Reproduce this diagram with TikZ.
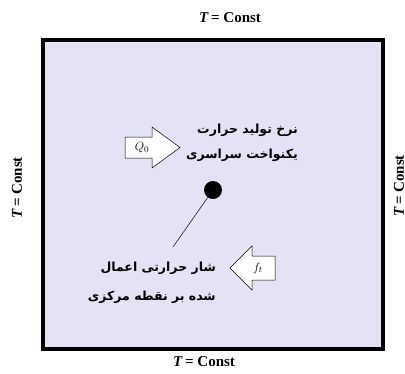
\documentclass[tikz,border=0pt]{standalone}
\usepackage{fontspec}
\setmainfont{Liberation Serif}
\newfontfamily\arabicfont[Script=Arabic]{DejaVu Sans}
\TeXXeTstate=1
\usetikzlibrary{calc}
\definecolor{boxfill}{RGB}{228,226,245}
\tikzset{
  lbl/.style={font=\bfseries\fontsize{15}{17}\selectfont, inner sep=0pt},
  ar/.style={font=\arabicfont\bfseries\fontsize{12.5}{14}\selectfont, inner sep=0pt},
  fatarrow/.style={draw=black, fill=white, line width=0.5pt, line join=miter}
}
\begin{document}
\begin{tikzpicture}[x=1pt,y=-1pt]
\useasboundingbox (0,0) rectangle (405,373);
\draw[line width=4pt, fill=boxfill] (43,40) rectangle (383,349);
\node[lbl] (top) at (230,18) {\textit{T}\,= Const};
\node[lbl] (bot) at (204,362) {\textit{T}\,= Const};
\node[lbl, rotate=90] (left) at (17,188) {\textit{T}\,= Const};
\node[lbl, rotate=90] (right) at (399,186) {\textit{T}\,= Const};
% Q0 arrow
\draw[fatarrow] (125,137) -- (152,137) -- (152,127) -- (180,147.5) -- (152,168) -- (152,158) -- (125,158) -- cycle;
\node (q) at (142,147.5) {\fontsize{13}{15}\selectfont$Q_0$};
% f_t arrow
\draw[fatarrow] (275,256) -- (252,256) -- (252,246) -- (230,268) -- (252,290) -- (252,280) -- (275,280) -- cycle;
\node (f) at (258,268) {\fontsize{13}{15}\selectfont$f_t$};
\node[ar, anchor=east] (t1a) at (298,130) {\beginR نرخ تولید حرارت\endR};
\node[ar, anchor=east] (t1b) at (298,155) {\beginR یکنواخت سراسری\endR};
\node[ar, anchor=east] (t2a) at (216,268) {\beginR شار حرارتی اعمال\endR};
\node[ar, anchor=east] (t2b) at (216,297) {\beginR شده بر نقطه مرکزی\endR};
\node[circle, fill=black, minimum size=18pt, inner sep=0pt] (dot) at (213,190) {};
\coordinate (lend) at (173,247);
\draw[line width=0.5pt] (dot) -- (lend);
\end{tikzpicture}
\end{document}
